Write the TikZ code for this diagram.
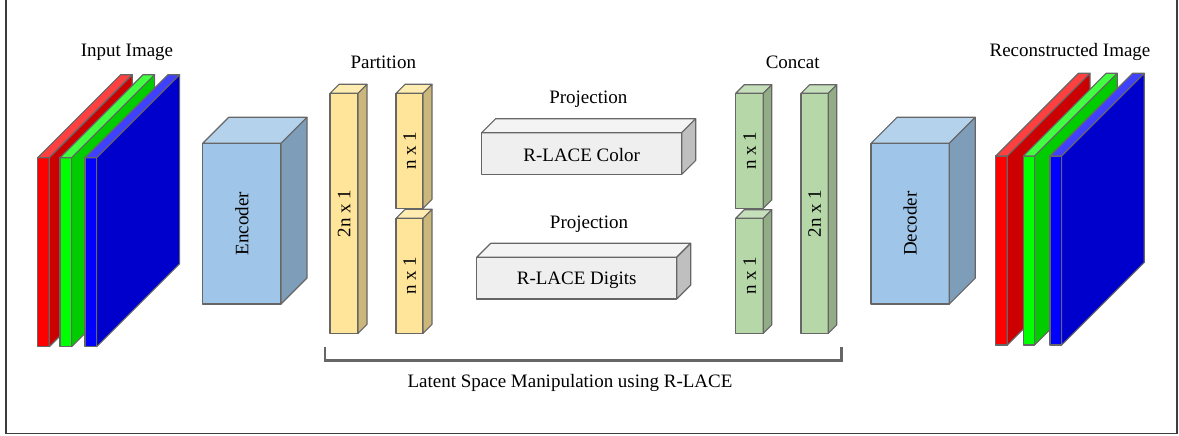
\documentclass[tikz,border=0pt]{standalone}
\usepackage{fontspec}
\setmainfont{Liberation Serif}
\usetikzlibrary{positioning, calc}
\definecolor{edgegray}{RGB}{102,102,102}
\definecolor{framegray}{RGB}{60,60,60}
% slab colours (front, top, side)
\definecolor{redF}{RGB}{255,0,0}
\definecolor{redT}{RGB}{255,64,64}
\definecolor{redS}{RGB}{204,0,0}
\definecolor{grnF}{RGB}{0,255,0}
\definecolor{grnT}{RGB}{64,255,64}
\definecolor{grnS}{RGB}{0,204,0}
\definecolor{bluF}{RGB}{0,0,255}
\definecolor{bluT}{RGB}{64,64,255}
\definecolor{bluS}{RGB}{0,0,204}
% block colours
\definecolor{encF}{RGB}{159,197,232}
\definecolor{encT}{RGB}{180,210,236}
\definecolor{encS}{RGB}{126,157,185}
\definecolor{yelF}{RGB}{255,229,153}
\definecolor{yelT}{RGB}{255,236,176}
\definecolor{yelS}{RGB}{204,183,122}
\definecolor{prjF}{RGB}{239,239,239}
\definecolor{prjT}{RGB}{244,244,244}
\definecolor{prjS}{RGB}{191,191,191}
\definecolor{catF}{RGB}{182,215,168}
\definecolor{catT}{RGB}{197,223,186}
\definecolor{catS}{RGB}{146,172,134}
\tikzset{
  face/.style={draw=edgegray, line width=0.8pt, line join=round},
  txt/.style={font=\fontsize{13.5}{16}\selectfont, inner sep=0pt},
  vtxt/.style={txt, rotate=90},
}
% \cuboid{x}{y}{width}{height}{depth}{colour prefix}
\newcommand{\cuboid}[6]{%
  \draw[face, fill=#6F] (#1,#2) rectangle ({#1+#3},{#2+#4});
  \draw[face, fill=#6T] (#1,#2) -- ({#1+#5},{#2-#5}) -- ({#1+#3+#5},{#2-#5}) -- ({#1+#3},#2) -- cycle;
  \draw[face, fill=#6S] ({#1+#3},#2) -- ({#1+#3+#5},{#2-#5}) -- ({#1+#3+#5},{#2+#4-#5}) -- ({#1+#3},{#2+#4}) -- cycle;
}

\begin{document}
\begin{tikzpicture}[x=0.025cm, y=-0.025cm]
    \useasboundingbox (0,0) rectangle (1179,435);
    % outer frame
    \draw[framegray, line width=1pt] (6,0) -- (6,433.5) -- (1177,433.5) -- (1177,0);

    % Input image
    \cuboid{37.7}{157.7}{11.6}{189}{83}{red}
    \cuboid{60}{157.7}{11.6}{189}{83}{grn}
    \cuboid{85}{157.7}{11.6}{189}{83}{blu}
    \node[txt] (inimg) at (127,52) {Input Image};

    % Encoder
    \cuboid{202.7}{143.3}{78.3}{160.7}{26}{enc}
    \node[vtxt] (enc) at (241.8,223.6) {Encoder};

    % Partition
    \cuboid{330}{93.3}{28}{240}{9}{yel}
    \cuboid{396}{93.3}{27}{115}{9}{yel}
    \cuboid{396}{218.3}{27}{115}{9}{yel}
    \node[txt] (part) at (383.3,62.3) {Partition};
    \node[vtxt] (pbig) at (344,213.3) {2n x 1};
    \node[vtxt] (ptop) at (409.5,150.8) {n x 1};
    \node[vtxt] (pbot) at (409.5,275.8) {n x 1};

    % Projections
    \cuboid{481.7}{132.7}{200}{41.7}{14}{prj}
    \cuboid{476.7}{257.3}{200}{41.7}{14}{prj}
    \node[txt] (projA) at (588.3,99) {Projection};
    \node[txt] (color) at (581.7,155) {R-LACE Color};
    \node[txt] (projB) at (589,224) {Projection};
    \node[txt] (digits) at (576.7,280) {R-LACE Digits};

    % Concat
    \cuboid{735.7}{93.3}{27.6}{115}{8.5}{cat}
    \cuboid{735.7}{218.3}{27.6}{115}{8.5}{cat}
    \cuboid{801}{93.3}{27.3}{240}{8.5}{cat}
    \node[txt] (concat) at (792.7,62.3) {Concat};
    \node[vtxt] (ctop) at (749.5,150.8) {n x 1};
    \node[vtxt] (cbot) at (749.5,275.8) {n x 1};
    \node[vtxt] (cbig) at (814.6,213.3) {2n x 1};

    % Decoder
    \cuboid{871}{143.3}{78.3}{160.7}{26}{enc}
    \node[vtxt] (dec) at (910.1,223.6) {Decoder};

    % Reconstructed image
    \cuboid{995.7}{156}{11.6}{189}{82.7}{red}
    \cuboid{1023.3}{156}{11.3}{189}{82.7}{grn}
    \cuboid{1050}{156}{11.6}{189}{82.7}{blu}
    \node[txt] (outimg) at (1070,51.7) {Reconstructed Image};

    % latent space bracket
    \coordinate (bl) at (325,347.3);
    \coordinate (br) at (841.7,347.3);
    \draw[edgegray, line width=1.8pt] (bl) -- ++(0,13.2) -| (br);
    \node[txt] (latent) at (570,383) {Latent Space Manipulation using R-LACE};
\end{tikzpicture}
\end{document}
